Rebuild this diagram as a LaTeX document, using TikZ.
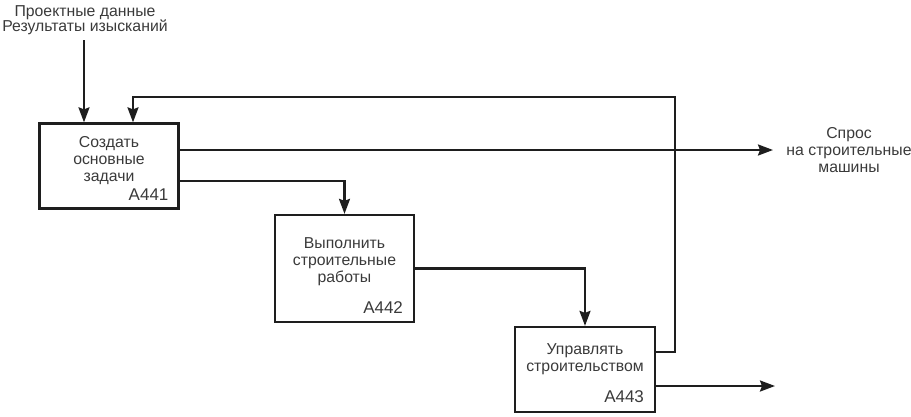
\documentclass[tikz,border=0pt]{standalone}
\usepackage{fontspec}
\setmainfont{Liberation Sans}
\usepackage{xcolor}
\definecolor{cLine}{HTML}{1E1E1E}
\definecolor{cText}{HTML}{3A3A3A}
\usetikzlibrary{positioning,arrows.meta}
\tikzset{
  node-box/.style={draw=cLine,line width=2.3pt,minimum width=139pt,
    minimum height=85pt,inner sep=0pt},
  node-text/.style={text=cText,align=center,inner sep=0pt,
    font=\fontsize{15.8}{17}\selectfont},
  node-id/.style={text=cText,anchor=south east,inner sep=0pt,
    font=\fontsize{17}{17}\selectfont},
  arrow/.style={-{Stealth[length=15pt,width=11pt,inset=2pt]},line width=2.3pt,draw=cLine},
}

\begin{document}
\begin{tikzpicture}[x=1pt,y=-1pt]
  \useasboundingbox (0,0) rectangle (911,416);
  % блоки A441..A443
  \node[node-box] (a441) at (109,166) {};
  \node[node-box,minimum height=107pt] (a442) at (344.5,268.5) {};
  \node[node-box,minimum width=140pt] (a443) at (585,369.5) {};
  \node[node-text,below=14pt of a441.north] (a441-text) {Создать\\основные\\задачи};
  \node[node-text,below=24pt of a442.north] (a442-text) {Выполнить\\строительные\\работы};
  \node[node-text,below=18pt of a443.north] (a443-text) {Управлять\\строительством};
  \node[node-id] (a441-id) at ([xshift=-11pt,yshift=9pt]a441.south east) {A441};
  \node[node-id] (a442-id) at ([xshift=-12pt,yshift=9pt]a442.south east) {A442};
  \node[node-id] (a443-id) at ([xshift=-12pt,yshift=10pt]a443.south east) {A443};
  % вход и выход
  \node[node-text,anchor=north,font=\fontsize{15.8}{15.5}\selectfont]
    (in-text) at (85,5) {Проектные данные\\Результаты изысканий};
  \node[node-text,anchor=north] (out-text) at (849,127) {Спрос\\на строительные\\машины};
  \coordinate (in-top) at (84,40);
  \coordinate (out-end) at (773,150);
  \coordinate (a443-out) at (775,386);
  \coordinate (fb-turn) at (675,97);
  % связи
  \draw[arrow] (in-top) -- (in-top |- a441.north);
  \draw[arrow] ([yshift=16pt]a441.east) -- (out-end);
  \draw[arrow] ([yshift=-15pt]a441.east) -| (a442.north);
  \draw[arrow] (a442.east) -| (a443.north);
  \draw[arrow] ([yshift=-16.5pt]a443.east) -- (a443-out);
  \draw[arrow] ([yshift=17.5pt]a443.east) -| (fb-turn) -| ([xshift=24pt]a441.north);
\end{tikzpicture}
\end{document}
